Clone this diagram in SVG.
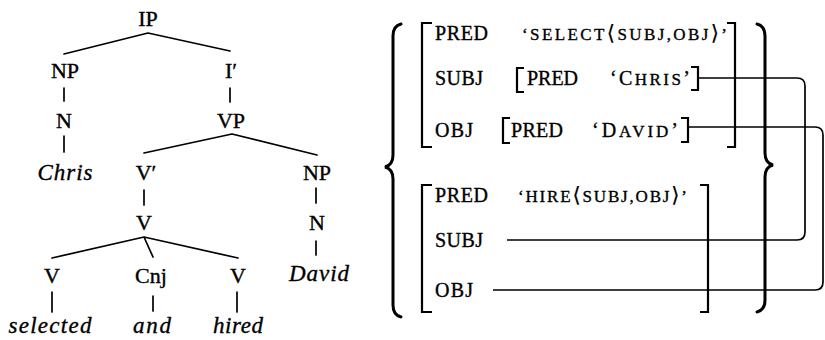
<svg xmlns="http://www.w3.org/2000/svg" width="825" height="340" viewBox="0 0 825 340">
<style>
text{stroke:#000;stroke-width:0.35}
.lbl{font-family:"Liberation Serif","Times New Roman",serif;font-size:22px;fill:#000;text-anchor:middle}
.it{font-family:"Liberation Serif","Times New Roman",serif;font-size:23px;font-style:italic;fill:#000;text-anchor:middle}
.av{font-family:"Liberation Serif","Times New Roman",serif;font-size:20px;fill:#000}
.sc{font-size:17px}
.ang{font-size:21px;font-family:"DejaVu Serif","Liberation Serif",serif;stroke-width:0.2}
.edge{stroke:#000;stroke-width:1.7;fill:none;stroke-linecap:round}
.brk{stroke:#000;stroke-width:2.2;fill:none}
.brace{stroke:#000;stroke-width:3;fill:none;stroke-linecap:round}
.link{stroke:#000;stroke-width:1.7;fill:none}
</style>
<rect width="825" height="340" fill="#fff"/>

<g id="tree-edges">
<path class="edge" d="M148 33 L64 54 M148 33 L230 51"/>
<path class="edge" d="M64 88 V101 M230 88 V102"/>
<path class="edge" d="M64 136 V152"/>
<path class="edge" d="M232 134 L144 153 M232 134 L317 155"/>
<path class="edge" d="M144 190 V205"/>
<path class="edge" d="M316 188 V203"/>
<path class="edge" d="M144 237 L52 258 M144 237 L153 257 M144 237 L238 258"/>
<path class="edge" d="M316 241 V255"/>
<path class="edge" d="M52 292 V312 M153 296 V311 M237 292 V312"/>
</g>

<g id="n-IP"><text class="lbl" x="148" y="26">IP</text></g>
<g id="n-NP1"><text class="lbl" x="65" y="78">NP</text></g>
<g id="n-I1"><text class="lbl" x="231" y="78">I′</text></g>
<g id="n-N1"><text class="lbl" x="64" y="128">N</text></g>
<g id="n-VP"><text class="lbl" x="231" y="128">VP</text></g>
<g id="n-Chris"><text class="it" x="65" y="180" textLength="55">Chris</text></g>
<g id="n-V1"><text class="lbl" x="146" y="180">V′</text></g>
<g id="n-NP2"><text class="lbl" x="317" y="180">NP</text></g>
<g id="n-V2"><text class="lbl" x="144" y="230">V</text></g>
<g id="n-N2"><text class="lbl" x="317" y="230">N</text></g>
<g id="n-V3"><text class="lbl" x="52" y="283">V</text></g>
<g id="n-Cnj"><text class="lbl" x="151" y="283">Cnj</text></g>
<g id="n-V4"><text class="lbl" x="238" y="283">V</text></g>
<g id="n-David"><text class="it" x="319" y="281" textLength="60">David</text></g>
<g id="n-selected"><text class="it" x="50" y="333" textLength="83">selected</text></g>
<g id="n-and"><text class="it" x="152" y="333" textLength="38">and</text></g>
<g id="n-hired"><text class="it" x="238" y="333" textLength="50">hired</text></g>

<g id="braces">
<path class="brace" d="M401 24 Q393 26 393 36 L393 155 Q393 165 385 167 Q393 169 393 179 L393 305 Q393 315 401 317"/>
<path class="brace" d="M757 24 Q765 26 765 36 L765 153 Q765 163 773 165 Q765 167 765 177 L765 300 Q765 310 757 312"/>
</g>

<g id="fs-select">
<path class="brk" d="M432 23 H422 V147 H432"/>
<path class="brk" d="M727 23 H735 V147 H727"/>
<text class="av" x="435" y="40" textLength="53">PRED</text>
<text class="av" x="522" y="40" textLength="205"><tspan class="sc">‘SELECT</tspan><tspan class="ang">⟨</tspan><tspan class="sc">SUBJ,OBJ</tspan><tspan class="ang">⟩</tspan><tspan class="sc">’</tspan></text>
<text class="av" x="435" y="85" textLength="48">SUBJ</text>
<text class="av" x="435" y="137" textLength="38">OBJ</text>
</g>

<g id="fs-chris">
<path class="brk" d="M524 68 H517 V92 H524"/>
<path class="brk" d="M691 67 H698 V90 H691"/>
<text class="av" x="527" y="85" textLength="51">PRED</text>
<text class="av" x="610" y="85" textLength="80">‘C<tspan class="sc">HRIS</tspan>’</text>
</g>

<g id="fs-david">
<path class="brk" d="M510 118 H503 V143 H510"/>
<path class="brk" d="M681 118 H688 V142 H681"/>
<text class="av" x="511" y="137" textLength="52">PRED</text>
<text class="av" x="592" y="137" textLength="86">‘D<tspan class="sc">AVID</tspan>’</text>
</g>

<g id="fs-hire">
<path class="brk" d="M432 185 H422 V312 H432"/>
<path class="brk" d="M700 185 H708 V312 H700"/>
<text class="av" x="435" y="202" textLength="53">PRED</text>
<text class="av" x="518" y="202" textLength="169"><tspan class="sc">‘HIRE</tspan><tspan class="ang">⟨</tspan><tspan class="sc">SUBJ,OBJ</tspan><tspan class="ang">⟩</tspan><tspan class="sc">’</tspan></text>
<text class="av" x="435" y="247" textLength="48">SUBJ</text>
<text class="av" x="435" y="297" textLength="38">OBJ</text>
</g>

<g id="connectors">
<path class="link" d="M698 78 H797 Q805 78 805 86 V232 Q805 240 797 240 H507"/>
<path class="link" d="M688 127 H815 Q823 127 823 135 V282 Q823 290 815 290 H493"/>
</g>
</svg>
